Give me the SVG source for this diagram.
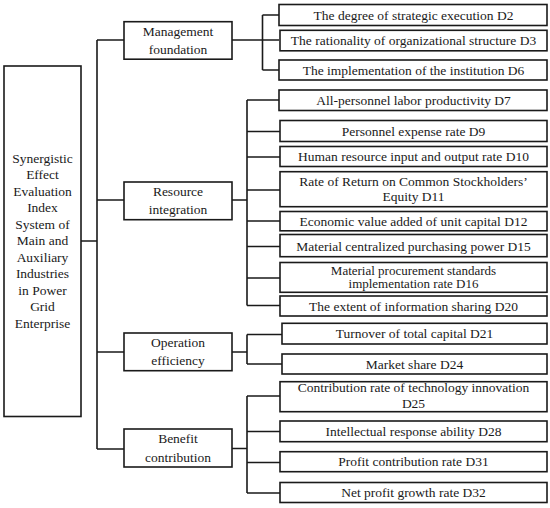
<svg xmlns="http://www.w3.org/2000/svg" width="550" height="508" viewBox="0 0 550 508">
<style>
rect{fill:#fff;stroke:#1a1a1a;stroke-width:1.6}
text{font-family:"Liberation Serif","Times New Roman",serif;font-size:13.5px;fill:#1a1a1a;text-anchor:middle}
.tight{font-size:13px}
#connectors path{fill:none;stroke:#1a1a1a;stroke-width:1.6}
</style>
<rect x="0" y="0" width="550" height="508" style="stroke:none"/>
<g id="connectors">
<path d="M81 241H97M97 40V449M97 40H124M97 200H124M97 352H124M97 449H124"/>
<path d="M232 40H279M262.5 15V70M262.5 15H279M262.5 70H279"/>
<path d="M232 200H247M247 100V305.5M247 100H280M247 131.5H280M247 157H280M247 190H280M247 221H280M247 246.5H280M247 278H280M247 305.5H280"/>
<path d="M232 352H247M247 334.5V364M247 334.5H282M247 364H282"/>
<path d="M232 448.5H247M247 396V493M247 396H280M247 431.5H280M247 462.5H280M247 493H280"/>
</g>
<g id="root"><rect x="4" y="66" width="77" height="350.5"/>
<text x="42.5" y="162.5">Synergistic</text><text x="42.5" y="179">Effect</text><text x="42.5" y="195.5">Evaluation</text><text x="42.5" y="212">Index</text><text x="42.5" y="228.5">System of</text><text x="42.5" y="245">Main and</text><text x="42.5" y="261.5">Auxiliary</text><text x="42.5" y="278">Industries</text><text x="42.5" y="294.5">in Power</text><text x="42.5" y="311">Grid</text><text x="42.5" y="327.5">Enterprise</text></g>
<g id="management"><rect x="124" y="21.7" width="108" height="37.5"/><text x="178" y="35.5">Management</text><text x="178" y="54">foundation</text></g>
<g id="resource"><rect x="124" y="182" width="108" height="37.7"/><text x="178" y="195.5">Resource</text><text x="178" y="213.5">integration</text></g>
<g id="operation"><rect x="124" y="333" width="108" height="37.7"/><text x="178" y="346.5">Operation</text><text x="178" y="365">efficiency</text></g>
<g id="benefit"><rect x="124" y="429" width="108" height="38"/><text x="178" y="443">Benefit</text><text x="178" y="461.5">contribution</text></g>
<g id="d2"><rect x="279" y="4.5" width="268" height="21"/><text x="413.5" y="19.5">The degree of strategic execution D2</text></g>
<g id="d3"><rect x="280" y="30.3" width="267" height="20.5"/><text x="413.5" y="45">The rationality of organizational structure D3</text></g>
<g id="d6"><rect x="279" y="60" width="268" height="20"/><text x="413.5" y="74.5">The implementation of the institution D6</text></g>
<g id="d7"><rect x="279" y="90" width="268" height="20.5"/><text x="413.5" y="104.7">All-personnel labor productivity D7</text></g>
<g id="d9"><rect x="280" y="120.5" width="267" height="21"/><text x="413.5" y="135.5">Personnel expense rate D9</text></g>
<g id="d10"><rect x="280" y="146.5" width="267" height="20"/><text x="413.5" y="161">Human resource input and output rate D10</text></g>
<g id="d11"><rect x="280" y="171.7" width="267" height="35"/><text x="413.5" y="185.7">Rate of Return on Common Stockholders’</text><text x="413.5" y="201">Equity D11</text></g>
<g id="d12"><rect x="280" y="211.5" width="267" height="19.3"/><text x="413.5" y="225.8">Economic value added of unit capital D12</text></g>
<g id="d15"><rect x="280" y="234.5" width="267" height="22.2"/><text x="413.5" y="250.5">Material centralized purchasing power D15</text></g>
<g id="d16"><rect x="280" y="262.5" width="267" height="29.8"/><text class="tight" x="413.5" y="274.5">Material procurement standards</text><text class="tight" x="413.5" y="288.3">implementation rate D16</text></g>
<g id="d20"><rect x="280" y="296" width="267" height="20"/><text x="413.5" y="310.5">The extent of information sharing D20</text></g>
<g id="d21"><rect x="282" y="323.3" width="265" height="20.7"/><text x="414.5" y="338.3">Turnover of total capital D21</text></g>
<g id="d24"><rect x="282" y="354" width="265" height="20"/><text x="414.5" y="368.5">Market share D24</text></g>
<g id="d25"><rect x="280" y="381.7" width="267" height="30"/><text x="413.5" y="391.7">Contribution rate of technology innovation</text><text x="413.5" y="408.3">D25</text></g>
<g id="d28"><rect x="280" y="421" width="267" height="20.7"/><text x="413.5" y="436">Intellectual response ability D28</text></g>
<g id="d31"><rect x="280" y="451.7" width="267" height="20"/><text x="413.5" y="466.2">Profit contribution rate D31</text></g>
<g id="d32"><rect x="280" y="482.5" width="267" height="20"/><text x="413.5" y="497">Net profit growth rate D32</text></g>
</svg>
